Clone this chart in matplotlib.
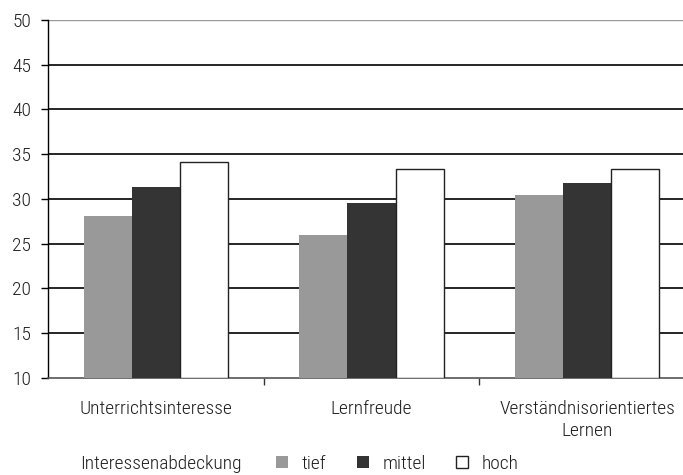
import matplotlib
matplotlib.use("Agg")
import matplotlib.pyplot as plt
import numpy as np

categories = ["Unterrichtsinteresse", "Lernfreude", "Verständnisorientiertes\nLernen"]
series_names = ["tief", "mittel", "hoch"]
tief = [28.1, 26.0, 30.4]
mittel = [31.3, 29.5, 31.8]
hoch = [34.1, 33.3, 33.3]
yticks = [10, 15, 20, 25, 30, 35, 40, 45, 50]
legend_title = "Interessenabdeckung"

plt.rcParams["font.family"] = ["Roboto Condensed", "DejaVu Sans"]
plt.rcParams["font.weight"] = "light"
fs = 14
tc = "#1e1e1e"

W, H = 683, 475
fig = plt.figure(figsize=(W / 100, H / 100), dpi=100)
ax = fig.add_axes([48 / W, 1 - 377.7 / H, (683 - 48) / W, (377.7 - 20) / H])

x = np.arange(len(categories))
bw = 0.223
styles = [dict(color="#999999", edgecolor="none"),
          dict(color="#333433", edgecolor="none"),
          dict(color="white", edgecolor="#222222", linewidth=1.0)]
handles = []
for i, (vals, st) in enumerate(zip([tief, mittel, hoch], styles)):
    b = ax.bar(x + (i - 1) * bw, np.array(vals) - 10, bottom=10, width=bw,
               zorder=3, label=series_names[i], **st)
    handles.append(b)

ax.set_ylim(10, 50)
ax.set_xlim(-0.5, 2.5 - (695 - 683) / 216)
ax.set_yticks(yticks)
ax.set_yticklabels([str(t) for t in yticks], fontsize=fs, color=tc)
for t in yticks[1:-1]:
    ax.axhline(t, color="black", lw=1.2, zorder=1)
ax.axhline(50, color="#999999", lw=1.0, zorder=1)

ax.set_xticks([0.5, 1.5])
ax.set_xticklabels([])
ax.tick_params(axis="x", direction="out", length=5, width=1, color="#333333")
ax.tick_params(axis="y", direction="out", length=5, width=1, color="black", pad=7)
for i, c in enumerate(categories):
    ax.text(x[i], -0.063, c, transform=ax.get_xaxis_transform(), ha="center",
            va="top", fontsize=fs, color=tc, linespacing=1.3)

for s in ["top", "right"]:
    ax.spines[s].set_visible(False)
ax.spines["left"].set_color("black")
ax.spines["bottom"].set_color("#555555")
ax.spines["left"].set_linewidth(1.0)
ax.spines["bottom"].set_linewidth(1.2)

ly = 1 - 464 / H
fig.text(80 / W, ly, legend_title, fontsize=fs, va="center", ha="left", color=tc)
sq_left = [276, 357, 456]
hl = 12 / (fs * 100 / 72)
for h, name, xl in zip(handles, series_names, sq_left):
    fig.legend(handles=[h], labels=[name], frameon=False,
               loc="center left", bbox_to_anchor=(xl / W, ly),
               prop={"size": fs, "weight": "light"},
               handlelength=hl, handleheight=hl,
               handletextpad=0.72, labelcolor=tc,
               borderaxespad=0, borderpad=0)

fig.savefig("out.png", dpi=100)
